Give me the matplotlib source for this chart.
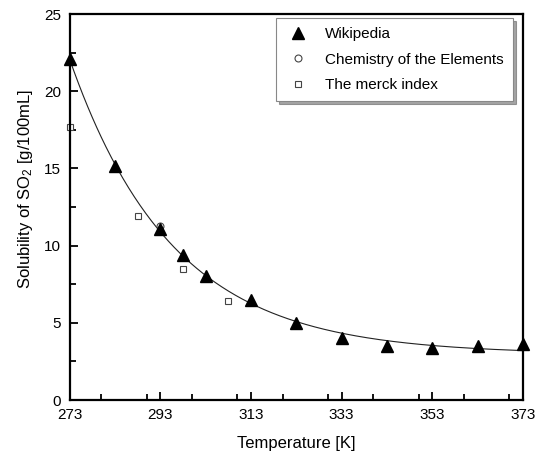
import numpy as np
import matplotlib
matplotlib.use("Agg")
import matplotlib.pyplot as plt
from matplotlib.ticker import MultipleLocator

plt.rcParams['font.family'] = ['Liberation Sans', 'DejaVu Sans']
plt.rcParams['mathtext.fontset'] = 'custom'
plt.rcParams['mathtext.rm'] = 'Liberation Sans'
plt.rcParams['mathtext.it'] = 'Liberation Sans'

# solubility of SO2 in water, g per 100 mL
wiki_T = [273, 283, 293, 298, 303, 313, 323, 333, 343, 353, 363, 373]
wiki_s = [22.1, 15.15, 11.1, 9.4, 8.0, 6.5, 5.0, 4.0, 3.5, 3.4, 3.5, 3.6]
chem_T = [293]
chem_s = [11.25]
merck_T = [273, 288, 298, 308]
merck_s = [17.7, 11.9, 8.5, 6.4]


def fit_exp_decay(x, y):
    # y = y0 + A*exp(-(x - x[0])/t), scan t and solve y0, A by least squares
    x = np.asarray(x, float)
    y = np.asarray(y, float)
    best = None
    for t in np.linspace(5, 80, 1501):
        M = np.column_stack([np.ones_like(x), np.exp(-(x - x[0]) / t)])
        coef = np.linalg.lstsq(M, y, rcond=None)[0]
        err = np.sum((M @ coef - y) ** 2)
        if best is None or err < best[0]:
            best = (err, t, coef)
    _, t, (y0, A) = best
    return lambda xx: y0 + A * np.exp(-(np.asarray(xx) - x[0]) / t)


fit = fit_exp_decay(wiki_T, wiki_s)
T_line = np.linspace(273, 373, 400)

fig = plt.figure(figsize=(5.43, 4.57), dpi=100)
ax = fig.add_axes([69.5 / 543, 1 - 400 / 457, (523 - 69.5) / 543, (400 - 14) / 457])

ax.plot(T_line, fit(T_line), color='#222222', lw=0.8, zorder=2)
ax.plot(wiki_T, wiki_s, '^', color='black', ms=8, ls='none', label='Wikipedia', zorder=3, clip_on=False)
ax.plot(chem_T, chem_s, 'o', mfc='white', mec='#444444', mew=0.8, ms=5, ls='none',
        label='Chemistry of the Elements', zorder=2.5)
ax.plot(merck_T, merck_s, 's', mfc='white', mec='#444444', mew=0.8, ms=5, ls='none',
        label='The merck index', zorder=2.5, clip_on=False)

ax.set_xlim(273, 373)
ax.set_ylim(0, 25)
ax.set_xticks(np.arange(273, 374, 20))
ax.xaxis.set_minor_locator(MultipleLocator(10))
ax.yaxis.set_major_locator(MultipleLocator(5))
ax.yaxis.set_minor_locator(MultipleLocator(2.5))
ax.tick_params(which='both', direction='in', top=False, right=False, width=1.3, labelsize=11)
ax.tick_params(which='major', length=6)
ax.tick_params(which='minor', length=4)
ax.tick_params(axis='x', which='major', pad=6)
ax.tick_params(axis='y', which='major', pad=6)
for sp in ax.spines.values():
    sp.set_linewidth(1.6)

ax.set_xlabel('Temperature [K]', fontsize=12)
ax.set_ylabel('Solubility of SO$_2$ [g/100mL]', fontsize=12)
ax.xaxis.set_label_coords(0.5, -0.092)
ax.yaxis.set_label_coords(-0.075, 0.547)

leg = ax.legend(loc='upper right', bbox_to_anchor=(513 / 543, 1 - 18 / 457),
                bbox_transform=fig.transFigure, borderaxespad=0, fancybox=False,
                shadow=True, edgecolor='#888888', fontsize=11, handletextpad=0.9,
                borderpad=0.6, labelspacing=0.75, handlelength=1.7)
leg.get_frame().set_linewidth(0.8)

fig.savefig('out.png', dpi=100)
